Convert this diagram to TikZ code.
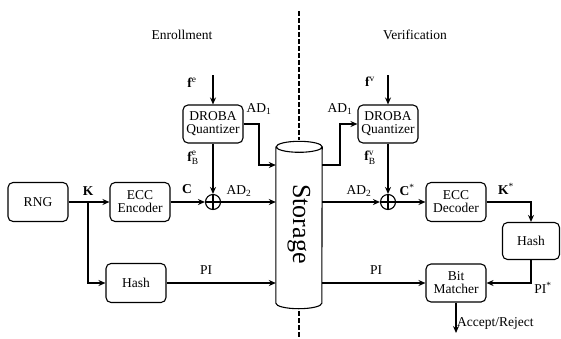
\documentclass[tikz,border=0pt]{standalone}
\usepackage{amsmath}
\usepackage{fontspec}
\setmainfont{Liberation Serif}
\usetikzlibrary{arrows.meta,calc}
\newcommand{\vsub}[1]{$_{\text{#1}}$}
\newcommand{\vsup}[1]{$^{\text{#1}}$}
\begin{document}
\begin{tikzpicture}[x=1pt,y=-1pt,
 box/.style={draw,line width=1.1pt,rounded corners=5pt,minimum width=60pt,minimum height=39pt,align=center,font=\fontsize{13.5}{13}\selectfont,inner sep=1pt},
 wire/.style={line width=1.8pt,-{Stealth[length=7pt,width=6pt]}},
 lbl/.style={font=\fontsize{13.5}{14}\selectfont,inner sep=0pt},
 xor/.style={draw,line width=1.1pt,circle,minimum size=15pt,inner sep=0pt,
   path picture={\draw[line width=1.1pt] (path picture bounding box.north) -- (path picture bounding box.south) (path picture bounding box.west) -- (path picture bounding box.east);}},
 divider/.style={line width=1.8pt,dash pattern=on 4.5pt off 2.5pt},
]
\useasboundingbox (0,0) rectangle (561,338);
% nodes
\node[box] (rng) at (38,202) {RNG};
\node[box] (enc) at (140,202) {ECC\\Encoder};
\node[box] (hashL) at (136,283) {Hash};
\node[box,minimum height=38pt] (qe) at (213,124) {DROBA\\Quantizer};
\node[xor] (xe) at (213,202) {};
\node[minimum width=46pt,minimum height=156pt,inner sep=0pt] (st) at (299,225) {};
\node[box,minimum height=38pt] (qv) at (388,124) {DROBA\\Quantizer};
\node[xor] (xv) at (388,202) {};
\node[box] (dec) at (456,202) {ECC\\Decoder};
\node[box,minimum width=57pt,minimum height=37pt] (hashR) at (531,241) {Hash};
\node[box,minimum height=38pt] (bm) at (456,283) {Bit\\Matcher};
% storage cylinder
\draw[line width=1.1pt] (st.north west) -- (st.south west)
  arc[start angle=180,end angle=360,x radius=23pt,y radius=5.5pt] -- (st.north east)
  arc[start angle=0,end angle=360,x radius=23pt,y radius=5.5pt];
\node[rotate=-90,font=\fontsize{26}{26}\selectfont] (stlab) at (299,224) {Storage};
% divider
\coordinate (dtop) at (299,11);
\coordinate (dbot) at (299,338);
\draw[divider] (dtop) -- ($(st.north)+(0,-7)$);
\draw[divider] ($(st.south)+(0,8)$) -- (dbot);
% free ends
\coordinate (fe) at (213,75);
\coordinate (fv) at (388,75);
\coordinate (acc) at (456,333);
\coordinate (kb) at (88,202);
\coordinate (ad1e) at (259,165);
\coordinate (ad1v) at (340,165);
% wires
\draw[wire] (rng) -- (enc);
\draw[wire] (kb) |- (hashL.west);
\draw[wire] (enc) -- (xe);
\draw[wire] (fe) -- (qe);
\draw[wire] (qe) -- (xe);
\draw[wire] (qe.east) -| (ad1e) -- (ad1e -| st.west);
\draw[wire] (xe) -- (xe -| st.west);
\draw[wire] (hashL) -- (hashL -| st.west);
\draw[wire] (st.east |- ad1v) -- (ad1v) |- (qv.west);
\draw[wire] (st.east |- xv) -- (xv);
\draw[wire] (fv) -- (qv);
\draw[wire] (qv) -- (xv);
\draw[wire] (xv) -- (dec);
\draw[wire] (dec.east) -| (hashR.north);
\draw[wire] (hashR.south) |- (bm.east);
\draw[wire] (st.east |- bm) -- (bm);
\draw[wire] (bm) -- (acc);
% labels
\node[lbl] at (182,35) {Enrollment};
\node[lbl] at (415,35) {Verification};
\node[lbl] at (88,191) {\textbf{K}};
\node[lbl] at (187,189) {\textbf{C}};
\node[lbl] at (192,83) {\textbf{f}\vsup{e}};
\node[lbl] at (193,158) {\textbf{f}$^{\text{e}}_{\text{B}}$};
\node[lbl] at (259,109) {AD\vsub{1}};
\node[lbl] at (239,191) {AD\vsub{2}};
\node[lbl] at (206,270) {PI};
\node[lbl] at (340,109) {AD\vsub{1}};
\node[lbl] at (370,82) {\textbf{f}\vsup{v}};
\node[lbl] at (370,158) {\textbf{f}$^{\text{v}}_{\text{B}}$};
\node[lbl] at (359,191) {AD\vsub{2}};
\node[lbl] at (407,190) {\textbf{C}\vsup{*}};
\node[lbl] at (506,189) {\textbf{K}\vsup{*}};
\node[lbl] at (376,270) {PI};
\node[lbl] at (543,288) {PI\vsup{*}};
\node[lbl,anchor=west] at (457,323) {Accept/Reject};
\end{tikzpicture}
\end{document}
